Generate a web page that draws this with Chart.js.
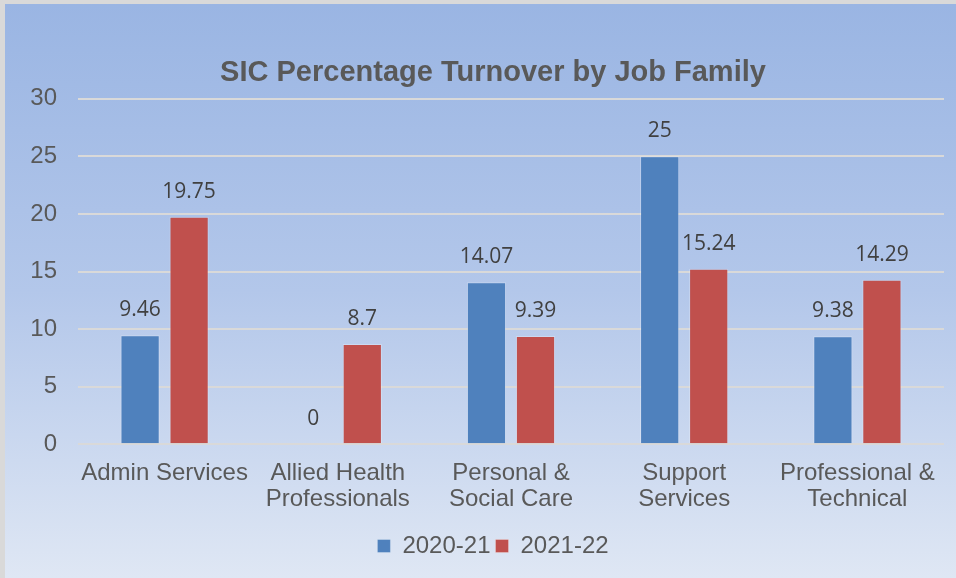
<!DOCTYPE html>
<html>
<head>
<meta charset="utf-8">
<script src="https://cdn.jsdelivr.net/npm/chart.js@4.4.1/dist/chart.umd.min.js"></script>
<style>
  html, body { margin: 0; padding: 0; }
  #frame {
    position: absolute; left: 0; top: 0; width: 956px; height: 578px;
    box-sizing: border-box;
    border-left: 5px solid #d9d9d9; border-top: 4px solid #d9d9d9;
    background: linear-gradient(to bottom, #9ab5e3 0%, #b3c7ea 50%, #dfe7f4 100%);
  }
  #wrap { position: absolute; left: 0; top: 0; width: 956px; height: 578px; }
</style>
</head>
<body>
<div id="frame"></div>
<div id="wrap"><canvas id="myChart"></canvas></div>
<script>
const categories = [
  'Admin Services',
  ['Allied Health', 'Professionals'],
  ['Personal &', 'Social Care'],
  ['Support', 'Services'],
  ['Professional &', 'Technical']
]
const turnover2021 = [9.46, 0, 14.07, 25, 9.38]
const turnover2122 = [19.75, 8.7, 9.39, 15.24, 14.29]
const yTicks = [0, 5, 10, 15, 20, 25, 30]

const FONT = '"Liberation Sans", Arial, sans-serif'

// values drawn above each bar
const valueLabels = {
  id: 'valueLabels',
  afterDatasetsDraw (chart) {
    const { ctx } = chart
    ctx.save()
    ctx.font = '21px "Open Sans", sans-serif'
    ctx.fillStyle = '#404040'
    ctx.textAlign = 'center'
    ctx.textBaseline = 'middle'
    chart.data.datasets.forEach((ds, i) => {
      chart.getDatasetMeta(i).data.forEach((bar, j) => {
        ctx.fillText(String(ds.data[j]), bar.x, bar.y - 25)
      })
    })
    ctx.restore()
  }
}

const ctx = document.getElementById('myChart')
new Chart(ctx, {
  type: 'bar',
  data: {
    labels: categories,
    datasets: [{
      label: '2020-21',
      data: turnover2021,
      backgroundColor: '#4f81bd',
      borderColor: 'rgba(255,255,255,0.25)',
      borderWidth: 1
    }, {
      label: '2021-22',
      data: turnover2122,
      backgroundColor: '#c0504d',
      borderColor: 'rgba(255,255,255,0.25)',
      borderWidth: 1
    }]
  },
  options: {
    responsive: true,
    maintainAspectRatio: false,
    animation: false,
    categoryPercentage: 0.566,
    barPercentage: 0.8,
    layout: { padding: { left: 30, right: 0, top: 20, bottom: 10 } },
    scales: {
      x: {
        grid: { display: false, drawTicks: false },
        border: { display: false },
        ticks: {
          color: '#595959',
          font: { family: FONT, size: 24, lineHeight: 1.1 },
          padding: 16,
          maxRotation: 0,
          autoSkip: false
        }
      },
      y: {
        min: 0,
        max: 30,
        afterBuildTicks (axis) { axis.ticks = yTicks.map(v => ({ value: v })) },
        afterFit (axis) { axis.width = 48 },
        grid: { color: '#d9d9d9', lineWidth: 2, drawTicks: false },
        border: { display: false },
        ticks: {
          color: '#595959',
          font: { family: FONT, size: 24 },
          padding: 21
        }
      },
      // empty right margin so the title and legend centre like the original
      yRight: {
        position: 'right',
        display: true,
        grid: { display: false, drawTicks: false },
        border: { display: false },
        ticks: { display: false },
        afterFit (axis) { axis.width = 12 }
      }
    },
    plugins: {
      title: {
        display: true,
        text: 'SIC Percentage Turnover by Job Family',
        color: '#595959',
        font: { family: FONT, size: 29, weight: 'bold', lineHeight: 1.2 },
        padding: { top: 36, bottom: 8 }
      },
      legend: {
        position: 'bottom',
        labels: {
          color: '#595959',
          boxWidth: 13,
          boxHeight: 13,
          padding: 5,
          font: { family: FONT, size: 24 }
        }
      },
      tooltip: { enabled: false }
    }
  },
  plugins: [valueLabels]
})
</script>
</body>
</html>
